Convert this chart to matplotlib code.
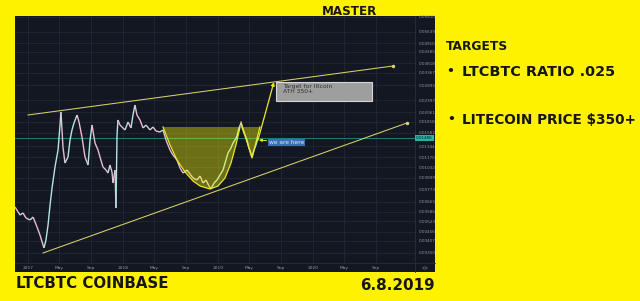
import numpy as np
import matplotlib
matplotlib.use('Agg')
import matplotlib.pyplot as plt
from matplotlib.patches import Rectangle, Polygon, Circle
from matplotlib.collections import LineCollection
from matplotlib.lines import Line2D

# LTCBTC price path (decimal year, price)
price_t = [2016.863,2016.895,2016.916,2016.947,2016.979,2017.021,2017.053,2017.095,2017.126,2017.158,2017.168,2017.189,2017.211,2017.232,2017.253,2017.284,2017.316,2017.337,2017.347,2017.368,2017.389,2017.421,2017.442,2017.463,2017.484,2017.516,2017.537,2017.568,2017.600,2017.632,2017.653,2017.674,2017.705,2017.737,2017.758,2017.789,2017.821,2017.842,2017.863,2017.884,2017.895,2017.916,2017.926,2017.937,2017.947,2017.968,2017.989,2018.021,2018.053,2018.084,2018.105,2018.126,2018.147,2018.179,2018.211,2018.242,2018.284,2018.316,2018.347,2018.389,2018.421,2018.453,2018.495,2018.526,2018.568,2018.600,2018.632,2018.674,2018.705,2018.737,2018.779,2018.811,2018.842,2018.874,2018.905,2018.926,2018.958,2018.989,2019.021,2019.053,2019.084,2019.105,2019.137,2019.158,2019.179,2019.200,2019.221,2019.242,2019.263,2019.284,2019.305,2019.326,2019.358,2019.379,2019.400,2019.421]
price_v = [0.00624, 0.00586, 0.00564, 0.00579, 0.00543, 0.0053, 0.0055, 0.00485, 0.00439, 0.00387, 0.00373, 0.00412, 0.00498, 0.0064, 0.00792, 0.01032, 0.01278, 0.0175, 0.02061, 0.01327, 0.01085, 0.0117, 0.01449, 0.01644, 0.01795, 0.01985, 0.01818, 0.01505, 0.0117, 0.01058, 0.01449, 0.0175, 0.01396, 0.01278, 0.0117, 0.01032, 0.00994, 0.00957, 0.01058, 0.00969, 0.00844, 0.00994, 0.00616, 0.01544, 0.01864, 0.0175, 0.01707, 0.01644, 0.01818, 0.01686, 0.01985, 0.02251, 0.01985, 0.01864, 0.01686, 0.0175, 0.01644, 0.01707, 0.01623, 0.01603, 0.01644, 0.01449, 0.01278, 0.012, 0.01127, 0.01019, 0.00957, 0.00994, 0.00945, 0.00899, 0.00876, 0.00922, 0.00844, 0.00876, 0.00813, 0.00783, 0.00844, 0.00876, 0.00933, 0.00994, 0.01127, 0.01231, 0.01311, 0.01396, 0.01449, 0.01524, 0.01686, 0.01795, 0.01644, 0.01544, 0.01449, 0.01311, 0.0117, 0.01278, 0.01361, 0.01486]

cup_t = [2018.421, 2018.495, 2018.568, 2018.653, 2018.737, 2018.811, 2018.916, 2019.000, 2019.074, 2019.137, 2019.189, 2019.232]
cup_v = [0.01707, 0.01361, 0.01127, 0.009692, 0.008654, 0.008127, 0.007826, 0.008127, 0.008987, 0.01085, 0.01361, 0.01707]
handle_t = [2019.242, 2019.358, 2019.442]
handle_v = [0.01818, 0.01156, 0.01707]
res_t = [2017.000, 2020.842]
res_v = [0.01985, 0.03677]
sup_t = [2017.158, 2020.989]
sup_v = [0.003499, 0.01795]
arrow_t = [2019.421, 2019.589]
arrow_v = [0.01449, 0.03006]
box_t = [2019.611, 2020.621]
box_v = [0.02367, 0.03006]
here_t = [2019.537, 2019.432]
here_v = [0.01405, 0.01449]
xlim = [2016.863, 2021.074]
ylim = [0.003085, 0.06896]
yticks = [0.0681, 0.05639, 0.0491, 0.04385, 0.03818, 0.03367, 0.02895, 0.02397, 0.02061, 0.01818, 0.01583, 0.01344, 0.0117, 0.01032, 0.00899, 0.00773, 0.00665, 0.00586, 0.00523, 0.00456, 0.00407, 0.0035]
years = [2017, 2018, 2019, 2020]
month_offsets = [0.0, 0.329, 0.666]
month_names = ['May', 'Sep']

xtick_pos = []
xtick_lab = []
for yr in years:
    xtick_pos += [yr + m for m in month_offsets]
    xtick_lab += [str(yr)] + month_names

W, H = 640, 301
YEL = '#fff200'
BG = '#131722'
GRID = '#252a38'
fig = plt.figure(figsize=(6.4, 3.01), dpi=100, facecolor=YEL)

fig.patches.append(Rectangle((15/W, (H-272)/H), 420/W, 256/H, transform=fig.transFigure,
                             facecolor=BG, edgecolor='none', zorder=-5))
ax = fig.add_axes([15/W, (H-263)/H, 400/W, 247/H])
ax.set_zorder(1)
ax.set_facecolor(BG)
ax.set_yscale('log')
ax.set_xlim(*xlim)
ax.set_ylim(*ylim)
ax.set_yticks(yticks)
ax.set_yticklabels(['%.5f' % v for v in yticks])
ax.minorticks_off()
ax.set_xticks(xtick_pos)
ax.set_xticklabels(xtick_lab)
ax.yaxis.tick_right()
ax.tick_params(axis='y', length=0, pad=3, labelsize=3.0, colors='#9297a6')
ax.tick_params(axis='x', length=0, pad=2, labelsize=3.2, colors='#9297a6')
for s in ax.spines.values():
    s.set_visible(False)
ax.grid(True, color=GRID, lw=0.5)
ax.set_axisbelow(True)

fig.lines.append(Line2D([415/W, 415/W], [(H-272)/H, (H-16)/H], transform=fig.transFigure, color='#2a2e39', lw=0.6, zorder=2))
fig.lines.append(Line2D([15/W, 435/W], [(H-263)/H, (H-263)/H], transform=fig.transFigure, color='#2a2e39', lw=0.6, zorder=2))

# current price line
cur = price_v[-1]
ax.axhline(cur, color='#1f8f8c', lw=0.6, zorder=2)

# price path, coloured by direction
segs = []
cols = []
for i in range(len(price_t) - 1):
    segs.append([(price_t[i], price_v[i]), (price_t[i+1], price_v[i+1])])
    cols.append('#b4e4e4' if price_v[i+1] >= price_v[i] else '#ecbccf')
ax.add_collection(LineCollection(segs, colors=cols, lw=1.0, zorder=3))

# trend lines
LINE = '#d6d16a'
ax.plot(res_t, res_v, color=LINE, lw=0.75, zorder=4)
ax.plot(sup_t, sup_v, color=LINE, lw=0.75, zorder=4)
ax.plot(res_t[-1:], res_v[-1:], 'o', ms=1.5, color=LINE, zorder=4)
ax.plot(sup_t[-1:], sup_v[-1:], 'o', ms=1.5, color=LINE, zorder=4)

# cup & handle
CUP = '#e8e82a'
top = cup_v[0]
ax.add_patch(Polygon(list(zip(cup_t, cup_v)), closed=True, facecolor=(1, 1, 0, 0.38), edgecolor='none', zorder=5))
ax.plot(cup_t, cup_v, color=CUP, lw=0.9, zorder=6)
ax.add_patch(Polygon([(handle_t[0], top), (handle_t[1], handle_v[1]), (handle_t[2], top)], closed=True,
                     facecolor=(1, 1, 0, 0.38), edgecolor='none', zorder=5))
ax.plot(handle_t, handle_v, color=CUP, lw=0.9, zorder=6)

# arrow to target
ax.annotate('', xy=(arrow_t[1], arrow_v[1]), xytext=(arrow_t[0], arrow_v[0]),
            arrowprops=dict(arrowstyle='-|>', color=CUP, lw=0.9, mutation_scale=5, shrinkA=0, shrinkB=0), zorder=7)

# target box
ax.add_patch(Rectangle((box_t[0], box_v[0]), box_t[1]-box_t[0], box_v[1]-box_v[0],
                       facecolor='#9e9e9e', edgecolor='#d6d6d6', lw=0.8, zorder=7))
ax.text(box_t[0] + 0.07, box_v[1] * 0.975, 'Target for litcoin\nATH 350+', fontsize=4.3, color='#2e2e2e',
        va='top', ha='left', linespacing=0.95, zorder=8)

# we are here
ax.annotate('we are here', xy=(here_t[1], here_v[1]), xytext=(here_t[0], here_v[0]),
            fontsize=4.2, color='#dce8ff', va='center', ha='left',
            bbox=dict(boxstyle='square,pad=0.15', fc='#3b70b8', ec='none'),
            arrowprops=dict(arrowstyle='-|>', color=CUP, lw=0.7, mutation_scale=4, shrinkA=1, shrinkB=0), zorder=8)

# current price tag on the price scale
fig.canvas.draw()
ytag = ax.transData.transform((xlim[1], cur))[1]
fig.text(424.5/W, ytag/(fig.dpi*3.01), '%.5f' % cur, fontsize=3.0, color='#0c1b1b', ha='center', va='center',
         zorder=5, bbox=dict(boxstyle='square,pad=0.25', fc='#2bb3a8', ec='none'))

fig.patches.append(Circle((425/W, (H-268)/H), 2.2/W, transform=fig.transFigure, fill=False, ec='#6b7080', lw=0.5, zorder=3))

# outer texts
TXT = '#161616'
fig.text(322/W, 1-11.5/H, 'MASTER', fontsize=8.6, fontweight='bold', color=TXT, va='center', ha='left')
fig.text(446/W, 1-47/H, 'TARGETS', fontsize=8.8, fontweight='bold', color=TXT, va='center', ha='left')
fig.text(446/W, 1-72/H, '•', fontsize=9, fontweight='bold', color=TXT, va='center', ha='left')
fig.text(462/W, 1-72/H, 'LTCBTC RATIO .025', fontsize=10.4, fontweight='bold', color=TXT, va='center', ha='left')
fig.text(447/W, 1-120/H, '•', fontsize=9, fontweight='bold', color=TXT, va='center', ha='left')
fig.text(462/W, 1-120/H, 'LITECOIN PRICE $350+', fontsize=9.8, fontweight='bold', color=TXT, va='center', ha='left')
fig.text(16/W, 1-283/H, 'LTCBTC COINBASE', fontsize=10.8, fontweight='bold', color=TXT, va='center', ha='left')
fig.text(360/W, 1-285/H, '6.8.2019', fontsize=10.9, fontweight='bold', color=TXT, va='center', ha='left')

fig.savefig('out.png', dpi=100, facecolor=YEL)
